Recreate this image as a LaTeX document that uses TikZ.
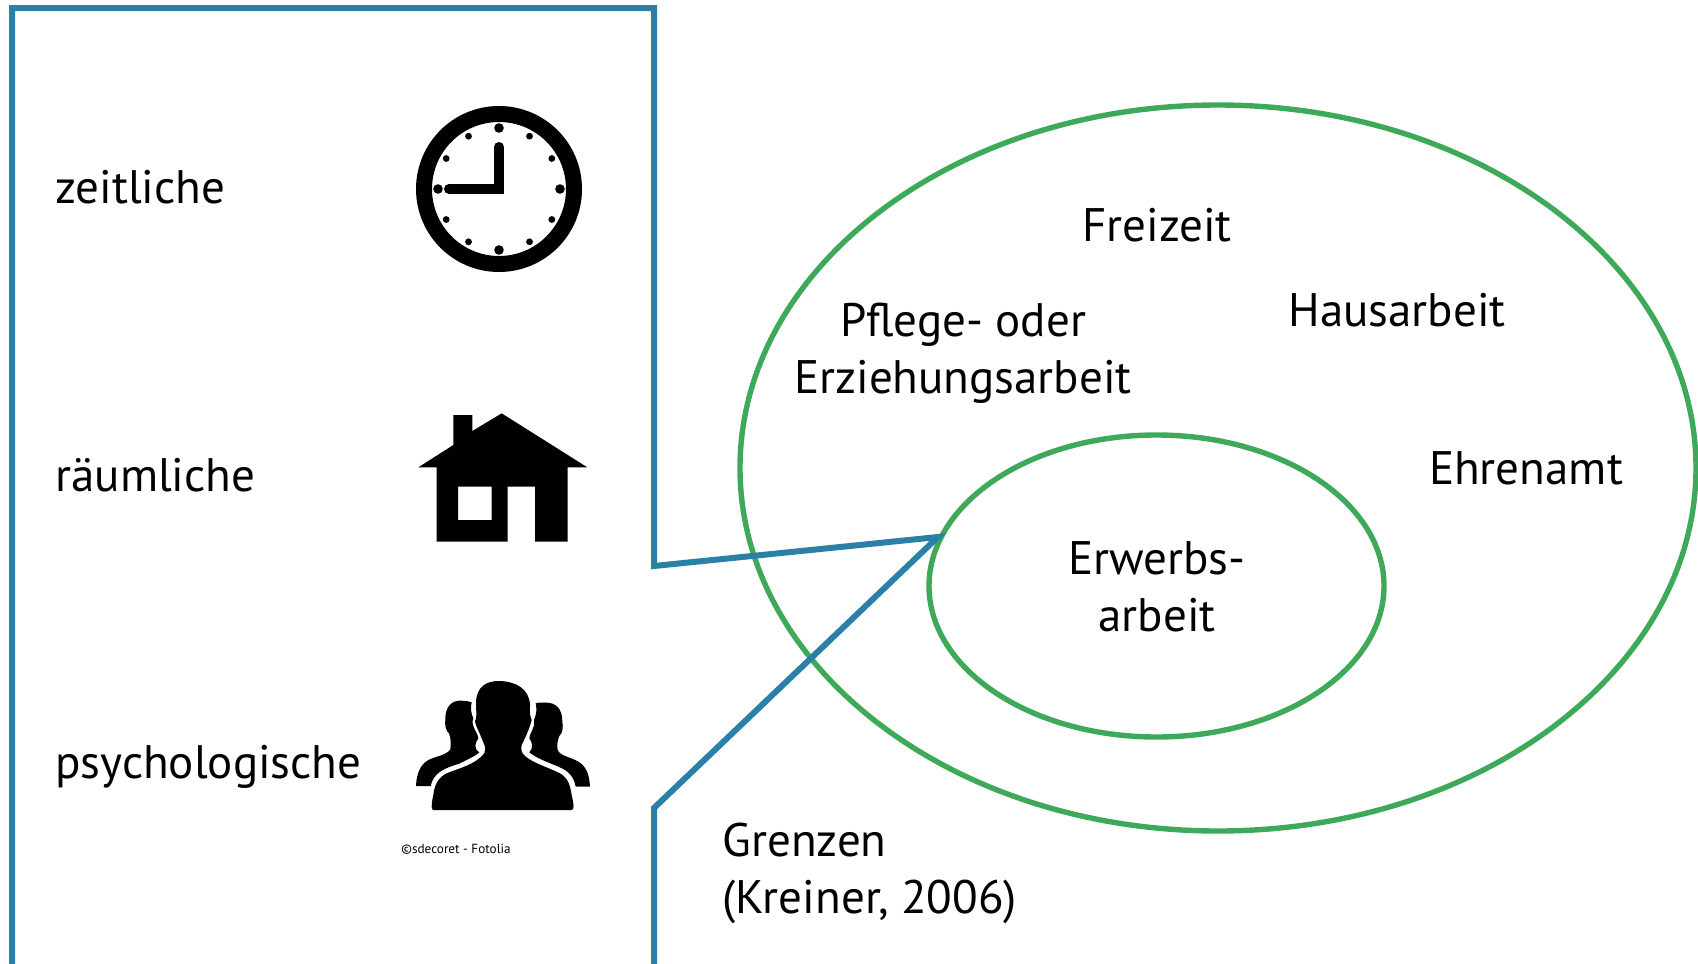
\documentclass[tikz,border=0pt]{standalone}
\usepackage{fontspec}
\setmainfont{PT Sans}
\definecolor{blueline}{HTML}{2A80A6}
\definecolor{greenline}{HTML}{3FA95A}
\tikzset{
  x=0.5pt,y=-0.5pt,
  label/.style={inner sep=0pt,font=\fontsize{23.5}{28.5}\selectfont,text=black},
  wide/.style={line width=3pt,draw=blueline,line join=miter},
  ring/.style={line width=2.7pt,draw=greenline},
}
\begin{document}
\begin{tikzpicture}
\useasboundingbox (0,0) rectangle (1698,964);
% boundary frame
\coordinate (fbl) at (12,975);
\coordinate (ftl) at (12,8);
\coordinate (ftr) at (654,8);
\coordinate (fm1) at (654,566);
\coordinate (tip) at (938,537);
\coordinate (fm2) at (654,808);
\coordinate (fbr) at (654,975);
% ellipses
\draw[ring] (1218,468) ellipse [x radius=478,y radius=363];
\draw[ring] (1156.5,586) ellipse [x radius=227.5,y radius=151];
\draw[wide] (fbl) -- (ftl) -- (ftr) -- (fm1) -- (tip) -- (fm2) -- (fbr);
% labels
\node[label,anchor=base west] (zeit) at (55,203) {zeitliche};
\node[label,anchor=base west] (raum) at (55,491) {räumliche};
\node[label,anchor=base west] (psych) at (55,778) {psychologische};
\node[label,anchor=base] (frei) at (1157,241) {Freizeit};
\node[label,align=center] (pflege) at (963,353) {Pflege- oder\\Erziehungsarbeit};
\node[label,anchor=base] (haus) at (1397,326) {Hausarbeit};
\node[label,anchor=base] (ehren) at (1526,484) {Ehrenamt};
\node[label,align=center] (erw) at (1157,587) {Erwerbs-\\arbeit};
\node[label,align=left,anchor=west] (gren) at (722,873) {Grenzen\\(Kreiner, 2006)};
\node[inner sep=0pt,anchor=base west,font=\fontsize{6.6}{8}\selectfont] (cred) at (401,853) {©sdecoret - Fotolia};
% clock
\draw[black,line width=8pt] (499,189) circle [radius=75];
\foreach \a in {0,90,180,270} \fill (499,189) ++(\a:61) circle [radius=4.8];
\foreach \a in {30,60,120,150,210,240,300,330} \fill (499,189) ++(\a:61) circle [radius=3.4];
\draw[line width=5pt,line cap=round,line join=miter] (499,147) -- (499,189) -- (449,189);
% house
\begin{scope}[shift={(400,400)},x=0.16667pt,y=-0.16667pt]
\fill[even odd rule] (305,40) -- (562,202) -- (503,202) -- (503,425) -- (405,425) -- (405,260) -- (323,260) -- (323,425) -- (110,425) -- (110,202) -- (55,202) -- (160,135) -- (160,45) -- (217,45) -- (217,93) -- cycle
  (174,260) rectangle (275,360);
\end{scope}
% people
\begin{scope}[shift={(390,670)},x=0.16667pt,y=-0.16667pt]
\fill (78,348) .. controls (80,310) and (90,285) .. (115,270)
  .. controls (140,258) and (170,255) .. (181,238)
  .. controls (183,222) and (183,205) .. (177,190)
  .. controls (168,185) and (163,160) .. (166,150)
  .. controls (165,110) and (185,92) .. (210,92)
  .. controls (225,92) and (238,94) .. (245,97)
  .. controls (240,115) and (245,135) .. (250,145)
  .. controls (240,165) and (265,190) .. (265,205)
  .. controls (255,220) and (250,235) .. (268,247)
  .. controls (250,262) and (225,272) .. (205,282)
  .. controls (160,295) and (130,310) .. (122,348) -- cycle;
\fill (600,350) .. controls (598,315) and (590,290) .. (565,275)
  .. controls (545,262) and (510,258) .. (503,240)
  .. controls (500,225) and (503,210) .. (508,198)
  .. controls (518,190) and (520,170) .. (517,155)
  .. controls (518,115) and (495,98) .. (470,98)
  .. controls (458,97) and (445,97) .. (437,100)
  .. controls (442,120) and (438,135) .. (432,150)
  .. controls (438,170) and (418,190) .. (418,205)
  .. controls (428,218) and (430,235) .. (418,247)
  .. controls (440,265) and (470,275) .. (505,290)
  .. controls (535,302) and (552,320) .. (557,350) -- cycle;
\fill (128,420) .. controls (122,410) and (126,395) .. (130,375)
  .. controls (133,345) and (145,322) .. (170,310)
  .. controls (205,295) and (255,285) .. (283,250)
  .. controls (290,230) and (282,225) .. (275,205)
  .. controls (270,190) and (262,180) .. (255,155)
  .. controls (262,140) and (258,125) .. (258,100)
  .. controls (258,50) and (290,33) .. (325,33)
  .. controls (375,33) and (418,55) .. (420,105)
  .. controls (420,125) and (418,135) .. (425,150)
  .. controls (420,170) and (410,195) .. (395,225)
  .. controls (392,240) and (395,250) .. (405,258)
  .. controls (430,280) and (470,290) .. (510,310)
  .. controls (535,325) and (540,345) .. (545,375)
  .. controls (552,405) and (553,418) .. (545,420) -- cycle;
\end{scope}
\end{tikzpicture}
\end{document}
